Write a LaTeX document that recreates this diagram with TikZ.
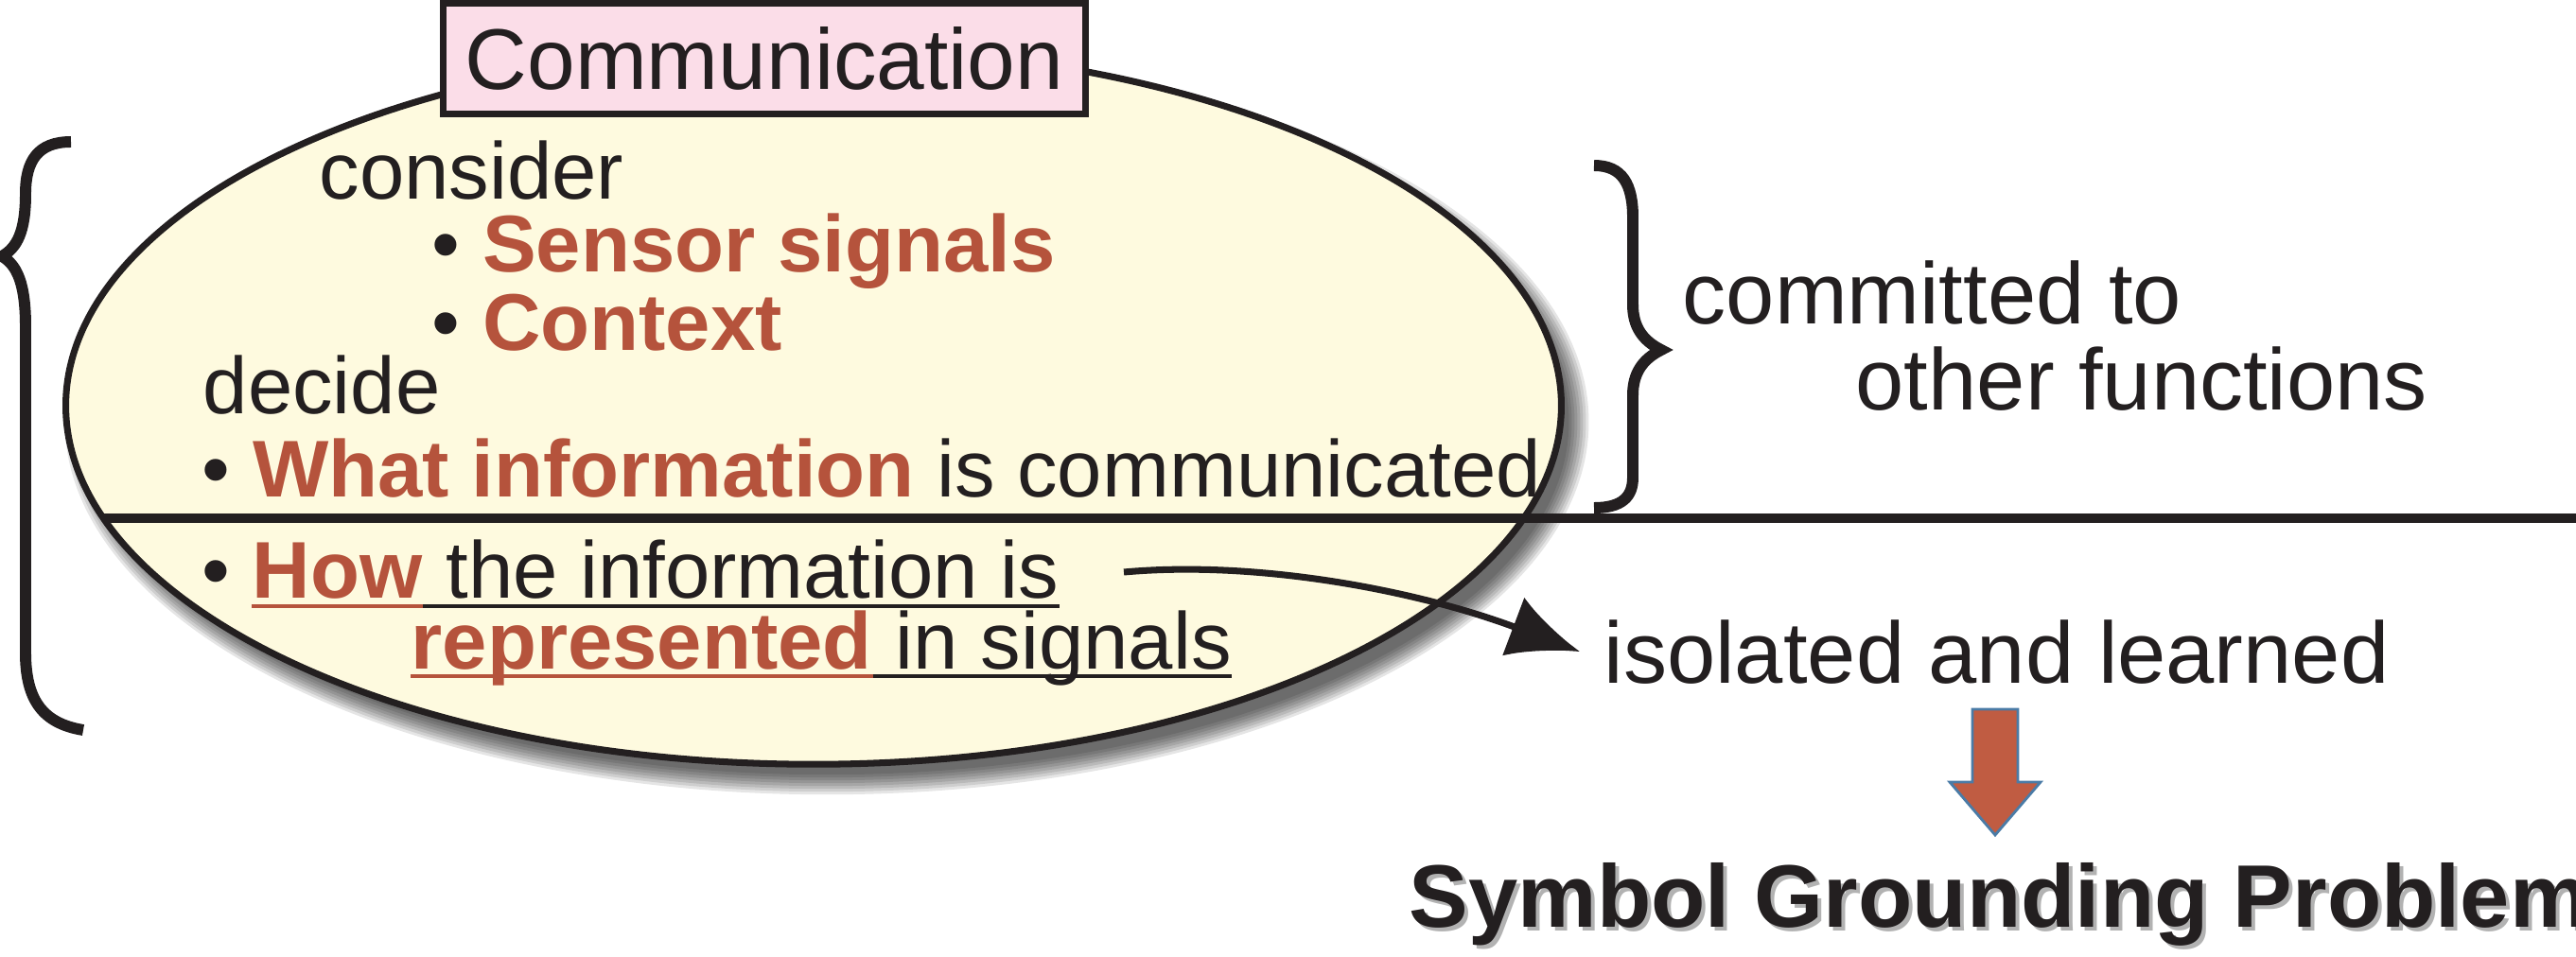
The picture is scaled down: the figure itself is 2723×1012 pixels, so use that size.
\documentclass[tikz,border=0pt]{standalone}
\usepackage{fontspec}
\setmainfont{Liberation Sans}
\usetikzlibrary{arrows.meta}
\definecolor{ellfill}{HTML}{FEFADF}
\definecolor{titlefill}{HTML}{FBDDE8}
\definecolor{redtxt}{HTML}{B5533C}
\definecolor{inkblk}{HTML}{231F20}
\definecolor{arrowred}{HTML}{C05C42}
\definecolor{arrowrim}{HTML}{4A7BA6}

\begin{document}
\begin{tikzpicture}[x=0.01cm, y=-0.01cm,
	txt/.style={font=\fontsize{24.2}{29}\selectfont, text=inkblk, inner sep=0pt, anchor=base west},
	hl/.style={font=\fontsize{24.2}{29}\selectfont\bfseries, text=redtxt},
	side/.style={font=\fontsize{26.2}{31}\selectfont, text=inkblk, inner sep=0pt, anchor=base west},
	big/.style={font=\fontsize{26.7}{32}\selectfont\bfseries, inner sep=0pt, anchor=base west},
	ul/.style={line width=1.4pt},
	brace/.style={line width=3.4pt, draw=inkblk},
	flow/.style={line width=2pt, draw=inkblk, -{Latex[length=7.5mm,width=6.6mm]}}]
	\useasboundingbox (0,0) rectangle (2723,1012);
	%shadow
	\foreach \k in {1,...,8}
	\fill[black, opacity=0.1] (874,446) ellipse [x radius={7.9cm+0.18cm-\k*0.03cm}, y radius={3.79cm+0.18cm-\k*0.03cm}];
	%ellipse
	\draw[line width=2pt, draw=inkblk, fill=ellfill] (860,429) ellipse [x radius=7.9cm, y radius=3.79cm];
	\draw[line width=2.6pt, inkblk] (110,548) -- (2723,548);
	%title
	\node[draw=inkblk, line width=2pt, fill=titlefill, minimum width=6.79cm, minimum height=1.17cm,
		inner sep=0pt, font=\fontsize{25.9}{31}\selectfont, text=inkblk] (title) at (808,62) {Communication};
	%inside
	\node[txt] (consider) at (337,210) {consider};
	\node[txt] (sensor) at (456,287) {\textbullet\ \textcolor{redtxt}{\textbf{Sensor signals}}};
	\node[txt] (context) at (456,370) {\textbullet\ \textcolor{redtxt}{\textbf{Context}}};
	\node[txt] (decide) at (214,437) {decide};
	\node[txt] (what) at (213,525) {\textbullet\ \textcolor{redtxt}{\textbf{What information}} is communicated};
	\node[txt] (dot) at (213,632) {\textbullet};
	\node[txt, hl] (how) at (266,632) {How};
	\node[txt] (howrest) at (how.base east) {\ the information is};
	\node[txt, hl] (repr) at (434,707) {represented};
	\node[txt] (reprrest) at (repr.base east) {\ in signals};
	%underlines
	\draw[ul, redtxt] ([yshift=-0.09cm]how.base west) -- ([yshift=-0.09cm]how.base east);
	\draw[ul, inkblk] ([yshift=-0.09cm]how.base east) -- ([yshift=-0.09cm]howrest.base east);
	\draw[ul, redtxt] ([yshift=-0.08cm]repr.base west) -- ([yshift=-0.08cm]repr.base east);
	\draw[ul, inkblk] ([yshift=-0.08cm]repr.base east) -- ([yshift=-0.08cm]reprrest.base east);
	%braces
	\draw[brace] (75,150) .. controls (40,150) and (27,170) .. (27,205) .. controls (27,245) and (18,262) .. (2,271)
		.. controls (18,280) and (27,300) .. (27,345) -- (27,690) .. controls (27,740) and (45,765) .. (88,772);
	\draw[brace] (1685,175) .. controls (1715,175) and (1726,195) .. (1726,230) -- (1726,322)
		.. controls (1726,345) and (1736,360) .. (1756,370) .. controls (1736,380) and (1726,395) .. (1726,418)
		-- (1726,505) .. controls (1726,525) and (1715,537) .. (1685,537);
	%right side
	\node[side] (commit) at (1778,342) {committed to};
	\node[side] (other) at (1961,433) {other functions};
	\node[side, inner sep=0.25cm] (isol) at (1670,722) {isolated and learned};
	\coordinate (src) at (1188,605);
	\draw[flow] (src) .. controls (1330,592) and (1500,625) .. (isol.west);
	%down arrow
	\draw[line width=0.8pt, draw=arrowrim, fill=arrowred] (2085,750) -- (2133,750) -- (2133,827) -- (2157,827)
		-- (2109,883) -- (2061,827) -- (2085,827) -- cycle;
	\node[big, text=black, opacity=0.3] (sgpshadow) at (1493,984) {Symbol Grounding Problem};
	\node[big, text=inkblk] (sgp) at (1489,980) {Symbol Grounding Problem};
\end{tikzpicture}
\end{document}
